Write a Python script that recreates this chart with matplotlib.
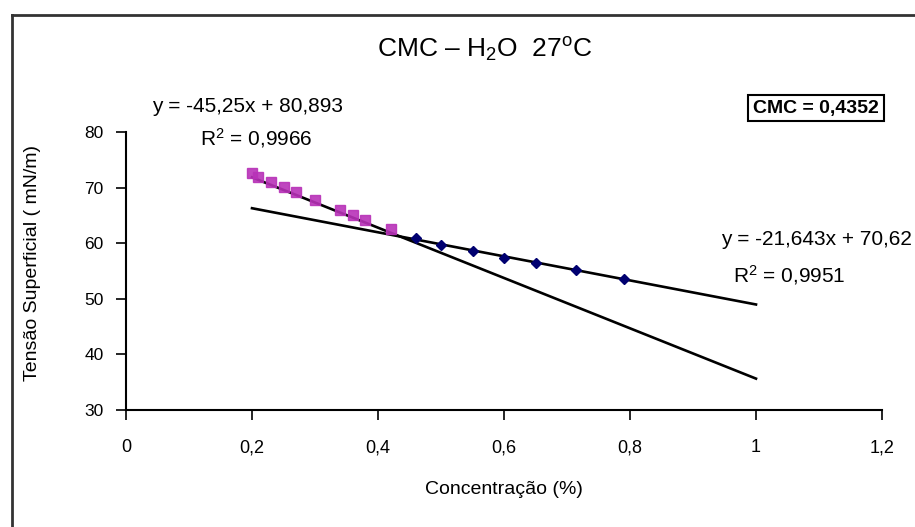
import numpy as np
import matplotlib
matplotlib.use('Agg')
import matplotlib.pyplot as plt
from matplotlib.lines import Line2D

plt.rcParams['font.family'] = ['Liberation Sans', 'DejaVu Sans']
plt.rcParams['mathtext.fontset'] = 'custom'
plt.rcParams['mathtext.rm'] = 'Liberation Sans'
plt.rcParams['mathtext.it'] = 'Liberation Sans:italic'

# below CMC (magenta squares)
conc_low = [0.20, 0.21, 0.23, 0.25, 0.27, 0.30, 0.34, 0.36, 0.38, 0.42]
tens_low = [72.6, 71.9, 71.0, 70.1, 69.2, 67.8, 66.0, 65.1, 64.1, 62.6]
# above CMC (navy diamonds)
conc_high = [0.46, 0.50, 0.55, 0.60, 0.65, 0.715, 0.79]
tens_high = [61.0, 59.7, 58.6, 57.3, 56.4, 55.2, 53.6]

# trendline coefficients as printed on the chart
fit_low = [-45.25, 80.893]
fit_high = [-21.643, 70.62]
fit_range = [0.2, 1.0]

W, H = 915, 527
fig = plt.figure(figsize=(W / 100, H / 100), dpi=100)
ax = fig.add_axes([126 / W, 1 - 410 / H, (882 - 126) / W, (410 - 132) / H])

xs = np.array(fit_range)
ax.plot(xs, np.polyval(fit_low, xs), color='black', lw=1.9, zorder=2)
ax.plot(xs, np.polyval(fit_high, xs), color='black', lw=1.9, zorder=2)
ax.plot(conc_low, tens_low, ls='none', marker='s', ms=6.5, color='#b832b8',
        alpha=0.9, zorder=3)
ax.plot(conc_high, tens_high, ls='none', marker='D', ms=5, color='#000070',
        zorder=3)

ax.set_xlim(0, 1.2)
ax.set_ylim(30, 80)
ax.set_xticks(np.arange(0, 1.21, 0.2))
ax.set_xticklabels(['0', '0,2', '0,4', '0,6', '0,8', '1', '1,2'])
ax.set_yticks(range(30, 81, 10))
for s in ['top', 'right']:
    ax.spines[s].set_visible(False)
for s in ['left', 'bottom']:
    ax.spines[s].set_linewidth(1.5)
ax.tick_params(axis='x', direction='out', length=7, width=1.2, pad=14,
               labelsize=13)
ax.tick_params(axis='y', direction='out', length=7, width=1.2, pad=9,
               labelsize=12.5)
ax.set_facecolor('white')

def fx(px):
    return px / W

def fy(py):
    return 1 - py / H

fig.text(fx(485), fy(50), r'CMC – H$_\mathregular{2}$O  27$^\mathregular{o}$C',
         ha='center', va='center', fontsize=19)
fig.text(fx(152), fy(107), 'y = -45,25x + 80,893', ha='left', va='center',
         fontsize=15)
fig.text(fx(200), fy(138), r'R$^\mathregular{2}$ = 0,9966', ha='left',
         va='center', fontsize=15)
fig.text(fx(912), fy(240), 'y = -21,643x + 70,62', ha='right', va='center',
         fontsize=15)
fig.text(fx(733), fy(275), r'R$^\mathregular{2}$ = 0,9951', ha='left',
         va='center', fontsize=15)
fig.text(fx(816), fy(108), 'CMC = 0,4352', ha='center', va='center',
         fontsize=14, fontweight='bold',
         bbox=dict(boxstyle='square,pad=0.25', fc='white', ec='black', lw=1.5))
fig.text(fx(33), fy(263), 'Tensão Superficial ( mN/m)', rotation=90,
         ha='center', va='center', fontsize=14)
fig.text(fx(504), fy(490), 'Concentração (%)', ha='center', va='center',
         fontsize=14)

# outer chart frame (right and bottom edges fall outside the picture)
fig.add_artist(Line2D([fx(12), fx(12)], [fy(15), 0], color='#333333', lw=2))
fig.add_artist(Line2D([fx(12), 1], [fy(15), fy(15)], color='#333333', lw=2))

fig.savefig('out.png', dpi=100, facecolor='white')
